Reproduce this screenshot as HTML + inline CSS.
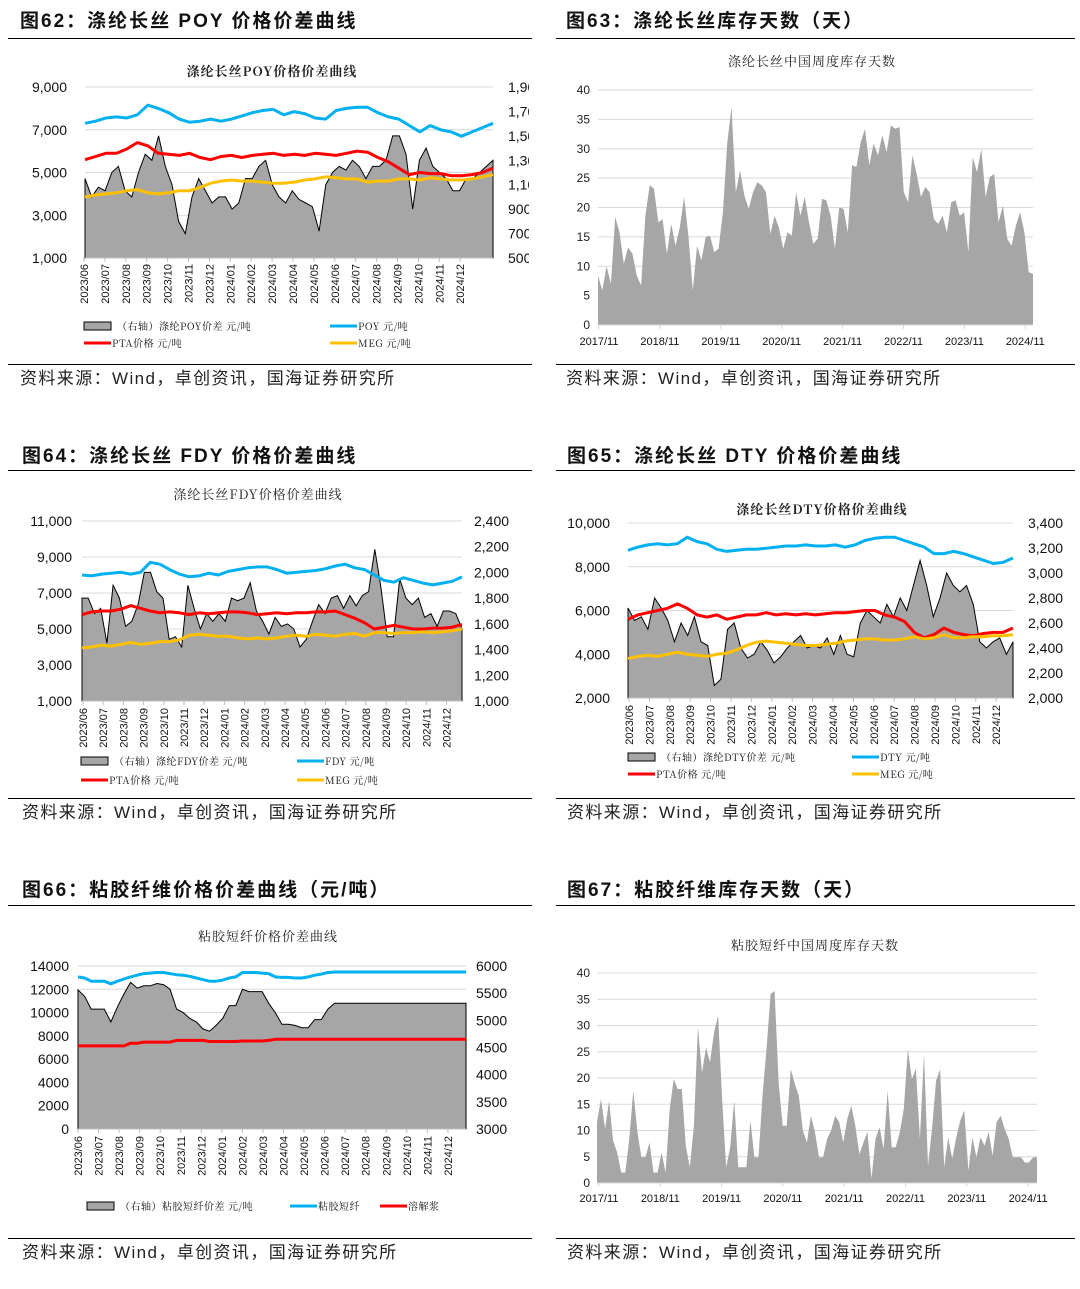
<!DOCTYPE html>
<html><head><meta charset="utf-8">
<style>
html,body{margin:0;padding:0;background:#fff;}
svg{display:block;font-family:"Liberation Sans","Noto Sans CJK SC",sans-serif;}
.ttl{font-size:19px;font-weight:bold;fill:#111;letter-spacing:2px;}
.src{font-size:17px;fill:#222;letter-spacing:1.4px;}
.ct{font-family:"Noto Serif CJK SC","Liberation Serif",serif;font-size:13px;fill:#222;letter-spacing:1px;}
.ax{font-size:14px;fill:#111;}
.axs{font-size:12px;fill:#222;}
.xl{font-size:11px;fill:#111;}
.lg{font-family:"Noto Serif CJK SC","Liberation Sans",serif;font-size:10px;fill:#111;letter-spacing:0.5px;}
</style></head>
<body>
<svg id="page" width="1080" height="1289" viewBox="0 0 1080 1289">
<defs>
<clipPath id="clipL"><rect x="0" y="0" width="529" height="1289"/></clipPath>
<clipPath id="clipR"><rect x="540" y="0" width="540" height="1289"/></clipPath>
</defs>
<g>
<text class="ttl" x="20" y="27">图62：涤纶长丝 POY 价格价差曲线</text>
<text class="ttl" x="566" y="27">图63：涤纶长丝库存天数（天）</text>
<text class="ttl" x="22" y="462">图64：涤纶长丝 FDY 价格价差曲线</text>
<text class="ttl" x="567" y="462">图65：涤纶长丝 DTY 价格价差曲线</text>
<text class="ttl" x="22" y="896">图66：粘胶纤维价格价差曲线（元/吨）</text>
<text class="ttl" x="567" y="896">图67：粘胶纤维库存天数（天）</text>
</g>
<g stroke="#000" stroke-width="1">
<line x1="8" y1="38.5" x2="532" y2="38.5"/><line x1="556" y1="38.5" x2="1075" y2="38.5"/>
<line x1="8" y1="364.5" x2="532" y2="364.5"/><line x1="556" y1="364.5" x2="1075" y2="364.5"/>
<line x1="8" y1="470.5" x2="532" y2="470.5"/><line x1="556" y1="470.5" x2="1075" y2="470.5"/>
<line x1="8" y1="798.5" x2="532" y2="798.5"/><line x1="556" y1="798.5" x2="1075" y2="798.5"/>
<line x1="8" y1="905.5" x2="532" y2="905.5"/><line x1="556" y1="905.5" x2="1075" y2="905.5"/>
<line x1="8" y1="1238.5" x2="532" y2="1238.5"/><line x1="556" y1="1238.5" x2="1075" y2="1238.5"/>
</g>
<g>
<text class="src" x="20" y="384">资料来源：Wind，卓创资讯，国海证券研究所</text>
<text class="src" x="566" y="384">资料来源：Wind，卓创资讯，国海证券研究所</text>
<text class="src" x="22" y="818">资料来源：Wind，卓创资讯，国海证券研究所</text>
<text class="src" x="567" y="818">资料来源：Wind，卓创资讯，国海证券研究所</text>
<text class="src" x="22" y="1258">资料来源：Wind，卓创资讯，国海证券研究所</text>
<text class="src" x="567" y="1258">资料来源：Wind，卓创资讯，国海证券研究所</text>
</g>
<g>
<text class="ct" x="272" y="76" text-anchor="middle" font-weight="bold">涤纶长丝POY价格价差曲线</text>
<text class="ct" x="812" y="66" text-anchor="middle" font-size="12">涤纶长丝中国周度库存天数</text>
<text class="ct" x="258" y="499" text-anchor="middle">涤纶长丝FDY价格价差曲线</text>
<text class="ct" x="822" y="514" text-anchor="middle" font-weight="bold">涤纶长丝DTY价格价差曲线</text>
<text class="ct" x="268" y="941" text-anchor="middle">粘胶短纤价格价差曲线</text>
<text class="ct" x="815" y="950" text-anchor="middle" font-size="12">粘胶短纤中国周度库存天数</text>
</g>
</svg>
<script>
// ---------- data ----------
const monthLabels = ["2023/06","2023/07","2023/08","2023/09","2023/10","2023/11","2023/12","2024/01","2024/02","2024/03","2024/04","2024/05","2024/06","2024/07","2024/08","2024/09","2024/10","2024/11","2024/12"];
const yearLabels = ["2017/11","2018/11","2019/11","2020/11","2021/11","2022/11","2023/11","2024/11"];

// Fig62 POY
const poyLeftTicks = [1000,3000,5000,7000,9000];
const poyRightTicks = [500,700,900,1100,1300,1500,1700,1900];
const poyPrice = [7300,7400,7550,7600,7550,7700,8150,8000,7800,7500,7350,7400,7500,7400,7500,7650,7800,7900,7950,7700,7850,7750,7550,7500,7900,8000,8050,8050,7800,7600,7500,7200,6900,7200,7000,6900,6700,6900,7100,7300];
const poyPta = [5600,5750,5900,5900,6100,6400,6250,5900,5850,5800,5900,5700,5600,5750,5800,5700,5800,5850,5900,5800,5850,5800,5900,5850,5800,5900,6000,5950,5700,5500,5200,4900,5000,4950,4950,4850,4850,4900,5000,5200];
const poyMeg = [3850,3950,4000,4050,4150,4200,4050,4000,4050,4150,4150,4300,4500,4600,4650,4600,4600,4550,4500,4500,4550,4650,4700,4800,4750,4700,4700,4550,4600,4600,4700,4700,4650,4750,4700,4650,4650,4700,4800,4900];
const poySpread = [1150,1000,1080,1050,1200,1250,1050,1000,1200,1350,1300,1500,1250,1100,800,700,1000,1150,1050,950,1000,1000,900,950,1150,1150,1250,1300,1100,1000,950,1050,980,950,920,720,1100,1200,1250,1220,1300,1250,1150,1250,1250,1300,1500,1500,1350,900,1300,1400,1250,1200,1150,1050,1050,1150,1150,1200,1250,1300];

// Fig63 filament inventory days
const filInvTicks = [0,5,10,15,20,25,30,35,40];
const filInvDays = [8.4,5.9,10,7,18.4,15.8,10.4,13.2,12.1,8.4,6.7,18.6,23.8,23.2,17.5,18,12.1,17.2,13.5,16.6,21.8,15.2,5.9,13.5,11,15,15.2,12.4,13,19.2,30.9,37.1,22.6,26.3,22,19.8,22.6,24.3,23.8,22.6,15.5,18.6,16.6,13,15.8,15.2,22.6,18.6,21.8,17.5,13.8,14.7,21.5,21.2,18.6,13,20,19.8,15.8,27.2,26.9,31.1,33.4,27.2,30.9,28.9,32.3,29.4,34,33.4,33.7,22.6,20.9,28.9,25.7,21.8,23.5,22.6,18,17.2,18.6,15.8,20.9,21.2,18.6,19.2,12.4,28.6,26,30,21.8,25.2,25.7,17.5,20.3,14.7,13.5,16.9,19.2,15.8,9,8.7];

// Fig64 FDY
const fdyLeftTicks = [1000,3000,5000,7000,9000,11000];
const fdyRightTicks = [1000,1200,1400,1600,1800,2000,2200,2400];
const fdyPrice = [8000,7950,8050,8100,8150,8050,8150,8700,8600,8300,8050,7900,7950,8100,8000,8200,8300,8400,8450,8450,8300,8100,8150,8200,8250,8350,8500,8600,8400,8300,8000,7700,7600,7850,7700,7550,7450,7550,7650,7900];
const fdyPta = [5800,5950,6000,6000,6100,6300,6150,6000,5900,5950,5900,5800,5900,5850,5900,5950,5950,5900,5800,5850,5900,5850,5900,5900,5950,5950,6000,5800,5600,5350,5000,5100,5200,5100,5000,5000,5050,5050,5100,5250];
const fdyMeg = [3950,4000,4100,4050,4150,4250,4150,4200,4300,4300,4400,4650,4700,4650,4600,4600,4500,4450,4500,4450,4500,4600,4650,4600,4700,4650,4600,4700,4750,4600,4800,4800,4750,4800,4800,4850,4800,4850,4900,5000];
const fdySpread = [1800,1800,1680,1720,1450,1900,1800,1580,1620,1750,2000,2000,1850,1800,1480,1500,1420,1900,1720,1560,1680,1620,1680,1620,1800,1780,1800,1920,1700,1620,1520,1650,1580,1600,1560,1420,1480,1620,1750,1680,1800,1820,1720,1820,1740,1820,1850,2180,1880,1500,1500,1950,1800,1750,1800,1650,1680,1580,1700,1700,1680,1560];

// Fig65 DTY
const dtyLeftTicks = [2000,4000,6000,8000,10000];
const dtyRightTicks = [2000,2200,2400,2600,2800,3000,3200,3400];
const dtyPrice = [8750,8900,9000,9050,9000,9050,9350,9150,9050,8800,8700,8750,8800,8800,8850,8900,8950,8950,9000,8950,8950,9000,8900,9000,9200,9300,9350,9350,9200,9050,8900,8600,8600,8700,8600,8450,8300,8150,8200,8400];
const dtyPta = [5600,5800,5900,6000,6100,6300,6100,5800,5700,5800,5600,5700,5800,5800,5900,5800,5850,5800,5850,5800,5850,5900,5900,5950,6000,6000,5800,5700,5500,5000,4750,4900,5200,5000,4900,4850,4950,5000,5000,5200];
const dtyMeg = [3800,3900,3950,3900,4000,4100,4000,3950,3900,4000,4050,4200,4400,4550,4600,4550,4500,4450,4400,4400,4450,4500,4600,4650,4700,4700,4650,4650,4700,4800,4700,4750,4900,4750,4750,4800,4800,4850,4850,4900];
const dtySpread = [2720,2620,2650,2550,2800,2720,2620,2450,2600,2500,2650,2450,2420,2100,2150,2550,2600,2400,2320,2350,2450,2380,2280,2330,2400,2450,2500,2400,2420,2400,2480,2350,2500,2350,2330,2600,2700,2650,2600,2750,2650,2800,2700,2900,3100,2900,2650,2800,3000,2900,2850,2900,2750,2450,2400,2450,2480,2350,2450];

// Fig66 viscose
const vscLeftTicks = [0,2000,4000,6000,8000,10000,12000,14000];
const vscRightTicks = [3000,3500,4000,4500,5000,5500,6000];
const vscSpread = [11950,11400,10300,10300,10300,9200,10500,11600,12600,12100,12300,12300,12500,12400,12000,10300,10000,9500,9200,8600,8400,8900,9500,10600,10600,12000,11800,11800,11800,10800,10000,9000,9000,8900,8700,8700,9400,9400,10300,10800,10800,10800,10800,10800,10800,10800,10800,10800,10800,10800,10800,10800,10800,10800,10800,10800,10800,10800,10800,10800];
const vscFiber = [5800,5780,5720,5720,5720,5670,5720,5760,5800,5830,5860,5870,5880,5880,5860,5840,5830,5810,5780,5750,5720,5720,5740,5780,5800,5880,5880,5880,5870,5860,5800,5790,5790,5780,5780,5800,5830,5850,5880,5890,5890,5890,5890,5890,5890,5890,5890,5890,5890,5890,5890,5890,5890,5890,5890,5890,5890,5890,5890,5890];
const vscPulp = [4530,4530,4530,4530,4530,4530,4530,4530,4580,4580,4600,4600,4600,4600,4600,4630,4630,4630,4630,4630,4610,4610,4610,4610,4610,4620,4620,4620,4620,4630,4650,4650,4650,4650,4650,4650,4650,4650,4650,4650,4650,4650,4650,4650,4650,4650,4650,4650,4650,4650,4650,4650,4650,4650,4650,4650,4650,4650,4650,4650];

// Fig67 viscose inventory days
const vscInvTicks = [0,5,10,15,20,25,30,35,40];
const vscInvDays = [11.6,16,10.3,15.7,8,5.8,2,2,8.4,17.6,9.7,4.9,4.9,7.7,2,2,5.8,2,14,19.8,17.9,17.9,7.1,3,10.9,29.7,21,25.8,23,28.7,31.9,16,3,6.8,15.7,3,3,3,11.9,4.9,4.9,16.6,25.5,36,36.6,18.9,10.9,10.9,21.7,18.9,16.6,10,7.7,12.8,9.7,4.9,4.9,8.4,10,12.8,11.6,7.7,12.2,14.7,10.9,5.5,7.7,9.7,0.8,8.4,10.6,6.5,17.6,6.8,6.8,9.7,14.1,25.5,19.8,21.7,8.4,24.6,3.3,10.3,19.5,21.7,3,8.7,4.6,8.7,11.9,13.8,2.3,8.7,4.9,8.7,7.1,9.7,5.2,11.6,12.8,10.3,8.4,4.9,4.9,4.9,3.9,3.9,4.9,4.9];

// ---------- drawing ----------
const NS = "http://www.w3.org/2000/svg";
const svg = document.getElementById('page');
function el(tag, attrs, parent){
  const e = document.createElementNS(NS, tag);
  for (const k in attrs) e.setAttribute(k, attrs[k]);
  (parent || svg).appendChild(e);
  return e;
}
function scaler(min, max, p0, p1){ return v => p1 - (v - min) / (max - min) * (p1 - p0); }
function xsc(n, x0, x1){ return i => x0 + i * (x1 - x0) / (n - 1); }
function fmt(v, comma){ return comma ? v.toLocaleString('en-US') : String(v); }

function linePath(vals, ys, x0, x1){
  const xs = xsc(vals.length, x0, x1);
  return vals.map((v,i)=> (i?'L':'M') + xs(i).toFixed(1) + ',' + ys(v).toFixed(1)).join(' ');
}
function areaPath(vals, ys, x0, x1, yb){
  return 'M' + x0 + ',' + yb + ' ' + linePath(vals, ys, x0, x1).replace('M','L') + ' L' + x1 + ',' + yb + ' Z';
}

function dualChart(c){
  const g = el('g', {'clip-path': c.clip});
  
  
  const yl = scaler(c.lTicks[0], c.lTicks[c.lTicks.length-1], c.y0, c.y1);
  const yr = scaler(c.rTicks[0], c.rTicks[c.rTicks.length-1], c.y0, c.y1);
  c.lTicks.forEach(t => {
    const ln = el('line', {x1:c.x0, x2:c.x1, y1:yl(t), y2:yl(t), stroke:'#d9d9d9', 'stroke-width':1}, g);
    
    
    const tx = el('text', {x:c.lx, y:yl(t)+5, 'text-anchor':'end', class:'ax'}, g);
    tx.textContent = fmt(t, c.comma);
    
    
  });
  c.rTicks.forEach(t => {
    const tx = el('text', {x:c.rx, y:yr(t)+5, class:'ax'}, g);
    tx.textContent = fmt(t, c.comma);
    
    
  });
  const ya = c.areaAxis === 'l' ? yl : yr;
  const ar = el('path', {d: areaPath(c.area, ya, c.x0, c.x1, c.y1), fill:'#a6a6a6', stroke:'#000', 'stroke-width':1}, g);
  
  
  const ls = c.lineAxis === 'r' ? yr : yl;
  c.lines.forEach(s => {
    const p = el('path', {d: linePath(s.v, ls, c.x0, c.x1), fill:'none', stroke:s.color, 'stroke-width':3, 'stroke-linejoin':'round'}, g);
    
    
  });
  const axl = el('line', {x1:c.x0, x2:c.x1, y1:c.y1, y2:c.y1, stroke:'#bfbfbf', 'stroke-width':1}, g);
  
  
  monthLabels.forEach((m,i) => {
    const x = c.mx0 + i * c.mstep;
    const tk = el('line', {x1:x, x2:x, y1:c.y1, y2:c.y1+4, stroke:'#bfbfbf'}, g);
    
    
    const tx = el('text', {x:x+4, y:c.my, 'text-anchor':'end', class:'xl', transform:'rotate(-90 '+(x+4)+' '+c.my+')', 'font-size':c.mfs||11}, g);
    tx.textContent = m;
    
    
  });
  c.legend.forEach(L => {
    if (L.type === 'box') {
      const b = el('rect', {x:L.x, y:L.y-4, width:27, height:8, fill:'#a6a6a6', stroke:'#000', 'stroke-width':1}, g);
      
      
    } else {
      const b = el('line', {x1:L.x, x2:L.x+27, y1:L.y, y2:L.y, stroke:L.color, 'stroke-width':3}, g);
      
      
    }
    const tx = el('text', {x:L.x+(L.type==='box'?33:28), y:L.y+4, class:'lg', 'font-size':c.lfs||10}, g);
    tx.textContent = L.text;
    
    
  });
}

function invChart(c){
  const g = el('g', {});
  
  
  const ys = scaler(c.ticks[0], c.ticks[c.ticks.length-1], c.y0, c.y1);
  c.ticks.forEach(t => {
    if (t > 0) {
      const ln = el('line', {x1:c.x0, x2:c.x1, y1:ys(t), y2:ys(t), stroke:'#d9d9d9', 'stroke-width':1}, g);
      
      
    }
    const tx = el('text', {x:c.lx, y:ys(t)+4, 'text-anchor':'end', class:'axs'}, g);
    tx.textContent = t;
    
    
  });
  const ar = el('path', {d: areaPath(c.vals, ys, c.x0, c.x1, c.y1), fill:'#a6a6a6'}, g);
  
  
  const axl = el('line', {x1:c.x0, x2:c.x1, y1:c.y1, y2:c.y1, stroke:'#d9d9d9', 'stroke-width':1}, g);
  
  
  yearLabels.forEach((m,i) => {
    const x = c.ax0 + i * c.astep;
    const tk = el('line', {x1:x, x2:x, y1:c.y1, y2:c.y1+4, stroke:'#d9d9d9'}, g);
    
    
    const tx = el('text', {x:x, y:c.ay, 'text-anchor':'middle', class:'xl', 'font-size':10}, g);
    tx.textContent = m;
    
    
  });
}

dualChart({name:'fig62-poy-chart', clip:'url(#clipL)', x0:85, x1:493, y0:87, y1:258, lTicks:poyLeftTicks, rTicks:poyRightTicks, comma:true, lx:67, rx:508, areaAxis:'r', lineAxis:'l', area:poySpread,
  lines:[{v:poyPrice,color:'#00b0f0',name:'poy-price-line'},{v:poyPta,color:'#ff0000',name:'pta-price-line'},{v:poyMeg,color:'#ffc000',name:'meg-price-line'}],
  mx0:84, mstep:20.9, my:264,
  legend:[{type:'box',x:84,y:326,text:'（右轴）涤纶POY价差 元/吨'},{type:'line',x:330,y:326,color:'#00b0f0',text:'POY 元/吨'},{type:'line',x:84,y:343,color:'#ff0000',text:'PTA价格 元/吨'},{type:'line',x:330,y:343,color:'#ffc000',text:'MEG 元/吨'}]});

invChart({name:'fig63-filament-inventory-chart', x0:598, x1:1033, y0:90, y1:325, ticks:filInvTicks, vals:filInvDays, lx:590, ax0:599, astep:60.9, ay:345});

dualChart({name:'fig64-fdy-chart', clip:'url(#clipL)', x0:82, x1:462, y0:521, y1:701, lTicks:fdyLeftTicks, rTicks:fdyRightTicks, comma:true, lx:72, rx:474, areaAxis:'r', lineAxis:'l', area:fdySpread,
  lines:[{v:fdyPrice,color:'#00b0f0',name:'fdy-price-line'},{v:fdyPta,color:'#ff0000',name:'pta-price-line'},{v:fdyMeg,color:'#ffc000',name:'meg-price-line'}],
  mx0:83, mstep:20.2, my:708,
  legend:[{type:'box',x:81,y:761,text:'（右轴）涤纶FDY价差 元/吨'},{type:'line',x:297,y:761,color:'#00b0f0',text:'FDY 元/吨'},{type:'line',x:81,y:780,color:'#ff0000',text:'PTA价格 元/吨'},{type:'line',x:297,y:780,color:'#ffc000',text:'MEG 元/吨'}]});

dualChart({name:'fig65-dty-chart', clip:'url(#clipR)', x0:628, x1:1013, y0:523, y1:698, lTicks:dtyLeftTicks, rTicks:dtyRightTicks, comma:true, lx:610, rx:1028, areaAxis:'r', lineAxis:'l', area:dtySpread,
  lines:[{v:dtyPrice,color:'#00b0f0',name:'dty-price-line'},{v:dtyPta,color:'#ff0000',name:'pta-price-line'},{v:dtyMeg,color:'#ffc000',name:'meg-price-line'}],
  mx0:629, mstep:20.4, my:705,
  legend:[{type:'box',x:628,y:757,text:'（右轴）涤纶DTY价差 元/吨'},{type:'line',x:852,y:757,color:'#00b0f0',text:'DTY 元/吨'},{type:'line',x:628,y:774,color:'#ff0000',text:'PTA价格 元/吨'},{type:'line',x:852,y:774,color:'#ffc000',text:'MEG 元/吨'}]});

dualChart({name:'fig66-viscose-chart', clip:'url(#clipL)', x0:78, x1:466, y0:966, y1:1129, lTicks:vscLeftTicks, rTicks:vscRightTicks, comma:false, lx:69, rx:476, areaAxis:'l', lineAxis:'r', area:vscSpread,
  lines:[{v:vscFiber,color:'#00b0f0',name:'viscose-fiber-line'},{v:vscPulp,color:'#ff0000',name:'dissolving-pulp-line'}],
  mx0:78, mstep:20.55, my:1136, mfs:12, lfs:11,
  legend:[{type:'box',x:87,y:1206,text:'（右轴）粘胶短纤价差 元/吨'},{type:'line',x:290,y:1206,color:'#00b0f0',text:'粘胶短纤'},{type:'line',x:380,y:1206,color:'#ff0000',text:'溶解浆'}]});

invChart({name:'fig67-viscose-inventory-chart', x0:597, x1:1037, y0:973, y1:1183, ticks:vscInvTicks, vals:vscInvDays, lx:590, ax0:599, astep:61.3, ay:1202});
</script>
</body></html>
